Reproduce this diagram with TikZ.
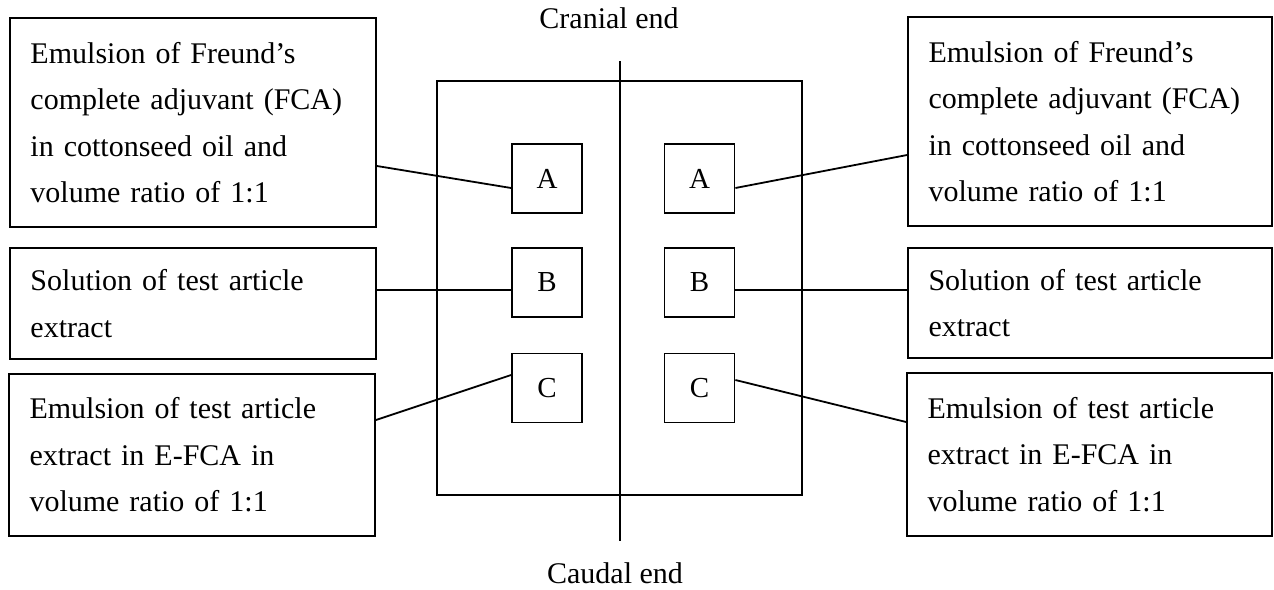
\documentclass[tikz,border=0pt]{standalone}
\usepackage{fontspec}
\setmainfont{Liberation Serif}
\usetikzlibrary{calc}
\begin{document}
\begin{tikzpicture}[x=1pt,y=-1pt,
  line width=1.8pt,
  infobox/.style={draw, rectangle, align=left, inner xsep=20.5pt, inner ysep=0pt,
    font=\fontsize{30}{46.5}\selectfont, minimum width=366pt},
  site/.style={draw, rectangle, minimum width=70pt, minimum height=69pt,
    inner sep=0pt, font=\fontsize{29}{32}\selectfont},
  endlabel/.style={anchor=base, inner sep=0pt, font=\fontsize{30}{36}\selectfont}]
\useasboundingbox[fill=white] (0,0) rectangle (1274,589);

% back of the animal and the midline
\node[draw, rectangle, minimum width=365pt, minimum height=414pt, inner sep=0pt]
  (back) at (619.5,288) {};
\coordinate (midtop) at (620,61);
\coordinate (midbot) at (620,541);
\draw (midtop) -- (midbot);
\node[endlabel] (cranial) at (609,28) {Cranial end};
\node[endlabel] (caudal) at (615,583) {Caudal end};

% injection sites
\node[site] (AL) at (547,178.5) {A};
\node[site] (BL) at (547,282.5) {B};
\node[site] (CL) at (547,388) {C};
\node[site] (AR) at (699.5,178.5) {A};
\node[site] (BR) at (699.5,282.5) {B};
\node[site] (CR) at (699.5,388) {C};

% descriptions, left side
\node[infobox, text width=325pt, minimum height=209pt] (L1) at (193,122.5)
  {Emulsion of Freund’s\\complete adjuvant (FCA)\\in cottonseed oil and\\volume ratio of 1:1};
\node[infobox, text width=325pt, minimum height=111pt] (L2) at (193,303.5)
  {Solution of test article\\extract};
\node[infobox, text width=325pt, minimum height=162pt] (L3) at (192,455)
  {Emulsion of test article\\extract in E-FCA in\\volume ratio of 1:1};

% descriptions, right side
\node[infobox, text width=323pt, minimum width=364pt, minimum height=209pt] (R1) at (1090,121.5)
  {Emulsion of Freund’s\\complete adjuvant (FCA)\\in cottonseed oil and\\volume ratio of 1:1};
\node[infobox, text width=323pt, minimum width=364pt, minimum height=110pt] (R2) at (1090,303)
  {Solution of test article\\extract};
\node[infobox, text width=324pt, minimum width=365pt, minimum height=163pt] (R3) at (1089.5,454.5)
  {Emulsion of test article\\extract in E-FCA in\\volume ratio of 1:1};

% connectors
\draw ([yshift=-43.5pt]L1.east) -- ([yshift=-9.5pt]AL.west);
\draw ([yshift=13.5pt]L2.east) -- ([yshift=13.5pt]L2.east -| BL.west);
\draw ([yshift=35pt]L3.east) -- ([yshift=13pt]CL.west);
\draw ([yshift=-9.5pt]AR.east) -- ([yshift=-33.5pt]R1.west);
\draw ([yshift=-7.5pt]BR.east) -- ([yshift=-7.5pt]BR.east -| R2.west);
\draw ([yshift=8pt]CR.east) -- ([yshift=32.5pt]R3.west);
\end{tikzpicture}
\end{document}
